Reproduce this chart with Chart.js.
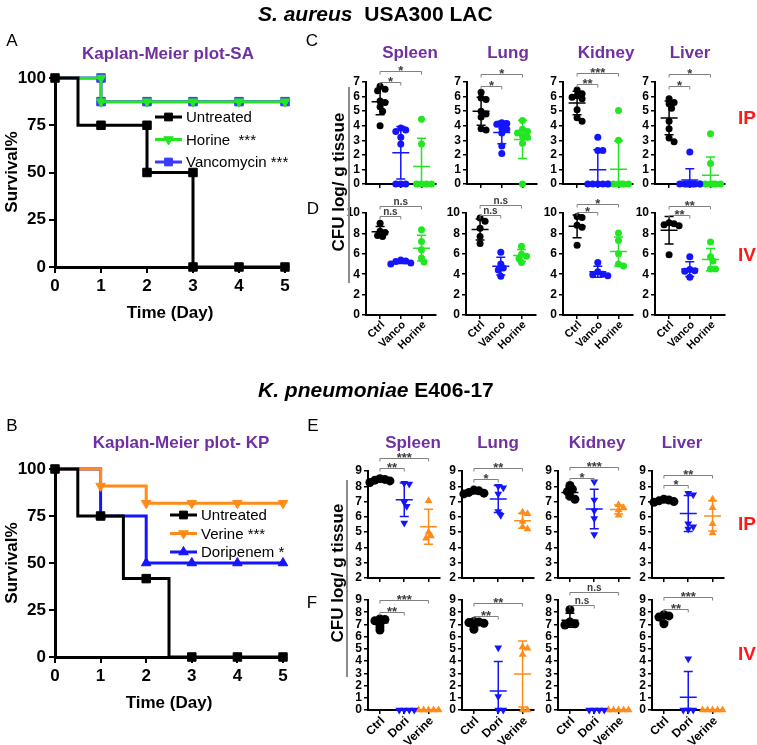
<!DOCTYPE html>
<html><head><meta charset="utf-8">
<script src="https://cdn.jsdelivr.net/npm/chart.js@4.4.0/dist/chart.umd.min.js"></script>
<style>
html,body{margin:0;padding:0;background:#fff;}
#wrap{position:relative;width:757px;height:745px;overflow:hidden;font-family:'Liberation Sans',Arial,Helvetica,sans-serif;background:#fff;}
canvas{position:absolute;left:0;top:0;}
.t{position:absolute;white-space:nowrap;line-height:1;}
</style></head><body><div id="wrap"></div>
<script>
// ---------------- DATA ----------------
const kmDays = [0,1,2,3,4,5];
const kmPercent = [0,25,50,75,100];
const saLegend = ['Untreated','Horine  ***','Vancomycin ***'];
const kpLegend = ['Untreated','Verine ***','Doripenem *'];
// S. aureus survival (step curves: times / survival %)
const saUntreatedT = [0,0.5,2,3,5],  saUntreatedS = [100,75,50,0,0];
const saUntreatedMarkT = [0,1,2,2,3,3,4,5], saUntreatedMarkS = [100,75,75,50,50,0,0,0];
const saHorineT = [0,1,5], saHorineS = [100,87.5,87.5];
const saHorineMarkT = [1,1,2,3,4,5], saHorineMarkS = [100,87.5,87.5,87.5,87.5,87.5];
const saVancoT = [0,1,5], saVancoS = [100,87.5,87.5];
const saVancoMarkT = [1,1,2,3,4,5], saVancoMarkS = [100,87.5,87.5,87.5,87.5,87.5];
// K. pneumoniae survival
const kpUntreatedT = [0,0.5,1.5,2.5,5], kpUntreatedS = [100,75,41.7,0,0];
const kpUntreatedMarkT = [0,1,2,3,4,5], kpUntreatedMarkS = [100,75,41.7,0,0,0];
const kpVerineT = [0,1,2,5], kpVerineS = [100,90.9,81.8,81.8];
const kpVerineMarkT = [1,2,3,4,5], kpVerineMarkS = [90.9,81.8,81.8,81.8,81.8];
const kpDoriT = [0,1,2,5], kpDoriS = [100,75,50,50];
const kpDoriMarkT = [1,2,3,4,5], kpDoriMarkS = [75,50,50,50,50];

const organs = ['Spleen','Lung','Kidney','Liver'];
const groupsSA = ['Ctrl','Vanco','Horine'];
const groupsKP = ['Ctrl','Dori','Verine'];

// CFU log / g tissue  [Ctrl, treatment 1, treatment 2]
const saIP_Spleen = [[6.7,6.5,6.4,5.7,5.6,5.3,5.0,4.0],[3.85,3.7,3.6,3.2,2.75,0,0,0],[4.45,2.75,0,0,0,0]];
const saIP_Lung   = [[6.3,5.9,5.8,5.0,4.8,4.6,3.8,3.7],[4.2,4.15,4.1,3.85,3.75,3.5,2.6,2.1],[4.35,3.75,3.6,3.5,3.3,3.2,2.8,0]];
const saIP_Kidney = [[6.45,6.2,6.05,5.95,5.85,5.1,4.55,4.3],[3.2,2.3,2.3,0,0,0,0,0],[5.05,3.0,0,0,0,0,0,0]];
const saIP_Liver  = [[5.85,5.6,5.5,5.2,4.3,3.8,3.15,2.9],[2.2,0,0,0,0,0,0,0],[3.45,1.4,0,0,0,0,0,0]];
const saIV_Spleen = [[9.0,8.2,8.1,7.8,7.7],[5.4,5.3,5.25,5.1,5.0],[8.35,7.2,6.4,5.6,5.2]];
const saIV_Lung   = [[9.5,9.2,8.5,7.7,7.0],[6.15,5.0,4.6,4.4,3.8],[6.75,5.95,5.75,5.55,5.15]];
const saIV_Kidney = [[9.65,9.55,8.8,8.6,6.85],[5.15,4.25,4.0,3.95,3.85],[8.05,7.3,6.0,5.0,4.8]];
const saIV_Liver  = [[9.05,8.95,8.85,8.75,5.9],[5.7,4.45,4.35,4.3,3.7],[7.15,5.7,5.3,4.5,4.5]];
const kpIP_Spleen = [[8.5,8.45,8.4,8.35,8.25],[8.2,8.15,6.95,6.7,5.6],[7.05,5.0,4.75,4.6]];
const kpIP_Lung   = [[7.75,7.7,7.6,7.55,7.5],[8.0,7.9,7.5,6.35,6.1],[6.3,6.2,5.7,5.35,5.2]];
const kpIP_Kidney = [[8.05,7.8,7.65,7.35,7.15],[8.3,7.1,6.4,5.9,4.85],[6.8,6.6,6.45,6.1]];
const kpIP_Liver  = [[7.15,7.1,7.05,7.0,6.95],[7.55,7.45,5.55,5.35,5.2],[7.15,6.6,5.55,4.95]];
const kpIV_Spleen = [[7.45,7.4,7.3,6.95,6.55],[0,0,0,0],[0,0,0,0,0]];
const kpIV_Lung   = [[7.25,7.2,7.15,7.1,6.6],[5.1,1.1,0,0],[5.15,5.05,4.55,0,0]];
const kpIV_Kidney = [[8.2,7.2,7.05,6.95],[0,0,0,0],[0,0,0,0,0]];
const kpIV_Liver  = [[7.8,7.7,7.6,7.05],[4.2,0,0,0],[0,0,0,0,0]];

// significance labels [Ctrl vs 2nd, Ctrl vs 3rd]
const sigC = [['*','*'],['*','*'],['**','***'],['*','*']];
const sigD = [['n.s','n.s'],['n.s','n.s'],['*','*'],['**','**']];
const sigE = [['**','***'],['*','**'],['*','***'],['*','**']];
const sigF = [['**','***'],['**','**'],['n.s','n.s'],['**','***']];

// ---------------- LAYOUT / STYLE ----------------
const FONT = "'Liberation Sans', Arial, Helvetica, sans-serif";
Chart.defaults.font.family = FONT;
Chart.defaults.color = '#000';
const PURPLE = '#7030A0';
const RED = '#FF1A1A';
const BLACK = '#000000', BLUE = '#1414FF', GREEN = '#22E622', ORANGE = '#FF8C1A';
const wrap = document.getElementById('wrap');

function addCanvas(){ const c=document.createElement('canvas'); c.width=757; c.height=745; wrap.appendChild(c); return c; }
function addText(html,x,y,css,mode){
  const d=document.createElement('div'); d.className='t'; d.innerHTML=html; d.style.cssText+=css;
  d.style.left=x+'px'; d.style.top=y+'px';
  d.style.transform = mode==='left' ? 'translate(0,-50%)' : (mode==='rot' ? 'translate(-50%,-50%) rotate(-90deg)' : 'translate(-50%,-50%)');
  wrap.appendChild(d); return d;
}
const zip = (a,b)=>a.map((v,i)=>({x:v,y:b[i]}));
const mean = a=>a.reduce((s,v)=>s+v,0)/a.length;
const sdev = a=>{const m=mean(a); return a.length>1?Math.sqrt(a.reduce((s,v)=>s+(v-m)*(v-m),0)/(a.length-1)):0;};

// ---------- Kaplan-Meier charts ----------
const kmLegendPlugin = {
  id:'kmLegend',
  afterDraw(chart,args,o){
    const ctx=chart.ctx; ctx.save();
    o.items.forEach((it,k)=>{
      const y=o.y+k*o.dy;
      ctx.strokeStyle=it.color; ctx.lineWidth=3;
      ctx.beginPath(); ctx.moveTo(o.x,y); ctx.lineTo(o.x+o.len,y); ctx.stroke();
      ctx.fillStyle=it.color; ctx.strokeStyle=it.color; ctx.lineWidth=1;
      Chart.helpers.drawPoint(ctx,{pointStyle:it.style,radius:it.r,rotation:it.rot||0,borderWidth:1},o.x+o.len/2,y);
      ctx.fillStyle='#000'; ctx.font='15px '+FONT; ctx.textAlign='left'; ctx.textBaseline='middle';
      ctx.fillText(it.text,o.x+o.len+4,y+1);
    });
    ctx.restore();
  }
};
function kmChart(area, series, legend){
  const c=addCanvas();
  const datasets=[];
  series.forEach(s=>{
    datasets.push({data:zip(s.mt,s.ms),showLine:false,pointStyle:s.style,rotation:s.rot||0,pointRadius:s.r,backgroundColor:s.color,borderColor:s.color,borderWidth:1,clip:false});
    datasets.push({data:zip(s.t,s.s),showLine:true,stepped:'before',borderColor:s.color,borderWidth:s.lw||3,pointRadius:0,fill:false,clip:false});
  });
  const axisCommon = {
    ticks:{font:{size:17,weight:'bold'},color:'#000',padding:3,autoSkip:false},
    grid:{display:true,drawOnChartArea:false,drawTicks:true,tickLength:6,color:'#000',lineWidth:2},
    border:{display:true,color:'#000',width:3}
  };
  new Chart(c,{
    type:'scatter',
    data:{datasets},
    options:{
      responsive:false,animation:false,events:[],
      layout:{padding:{left:area.left-45,right:757-area.right,top:area.top,bottom:745-area.bottom-30}},
      plugins:{legend:{display:false},tooltip:{enabled:false},kmLegend:legend},
      scales:{
        x:Object.assign({type:'linear',min:0,max:5,afterBuildTicks:s=>{s.ticks=kmDays.map(v=>({value:v}));},afterFit:s=>{s.height=30;}},JSON.parse(JSON.stringify(axisCommon))),
        y:Object.assign({type:'linear',min:0,max:100,afterBuildTicks:s=>{s.ticks=kmPercent.map(v=>({value:v}));},afterFit:s=>{s.width=45;}},JSON.parse(JSON.stringify(axisCommon)))
      }
    },
    plugins:[kmLegendPlugin]
  });
}

kmChart({left:55,right:285,top:78,bottom:267},[
  {t:saUntreatedT,s:saUntreatedS,mt:saUntreatedMarkT,ms:saUntreatedMarkS,color:BLACK,style:'rect',r:6},
  {t:saHorineT,s:saHorineS,mt:saHorineMarkT,ms:saHorineMarkS,color:GREEN,style:'triangle',rot:180,r:5.5,lw:2.5},
  {t:saVancoT,s:saVancoS,mt:saVancoMarkT,ms:saVancoMarkS,color:'#3A3AFF',style:'rect',r:6}
],{x:155,len:27,y:117,dy:22.5,items:[
  {text:saLegend[0],color:BLACK,style:'rect',r:5.5},
  {text:saLegend[1],color:GREEN,style:'triangle',rot:180,r:5.5},
  {text:saLegend[2],color:'#3A3AFF',style:'rect',r:5.5}
]});

kmChart({left:55,right:283,top:469,bottom:657},[
  {t:kpUntreatedT,s:kpUntreatedS,mt:kpUntreatedMarkT,ms:kpUntreatedMarkS,color:BLACK,style:'rect',r:6},
  {t:kpVerineT,s:kpVerineS,mt:kpVerineMarkT,ms:kpVerineMarkS,color:ORANGE,style:'triangle',rot:180,r:5.5},
  {t:kpDoriT,s:kpDoriS,mt:kpDoriMarkT,ms:kpDoriMarkS,color:BLUE,style:'triangle',rot:0,r:5.5}
],{x:170,len:27,y:515,dy:18.5,items:[
  {text:kpLegend[0],color:BLACK,style:'rect',r:5.5},
  {text:kpLegend[1],color:ORANGE,style:'triangle',rot:180,r:5.5},
  {text:kpLegend[2],color:BLUE,style:'triangle',rot:0,r:5.5}
]});

// ---------- CFU scatter charts ----------
function swarm(vals,pxPerUnit,step,minD,maxOff){
  const placed=[],out=[]; const n=Math.floor(maxOff/step);
  vals.forEach(v=>{
    let best=0,bestD=-1;
    for(let k=0;k<=2*n;k++){
      const off=k===0?0:(k%2?1:-1)*Math.ceil(k/2)*step;
      let d=Infinity;
      placed.forEach(p=>{d=Math.min(d,Math.hypot(off-p.o,(v-p.v)*pxPerUnit));});
      if(d>=minD){best=off;bestD=d;break;}
      if(d>bestD){bestD=d;best=off;}
    }
    placed.push({o:best,v}); out.push(best);
  });
  return out;
}
const statsPlugin = {
  id:'stats',
  afterDatasetsDraw(chart,args,o){
    const ctx=chart.ctx,x=chart.scales.x,y=chart.scales.y; ctx.save();
    chart.data.datasets.forEach((ds,i)=>{
      const m=mean(ds.raw), s=sdev(ds.raw);
      const cx=x.getPixelForValue(i);
      const py=v=>y.getPixelForValue(Math.max(v,y.min));
      ctx.strokeStyle=ds.borderColor; ctx.lineWidth=1.5;
      ctx.beginPath();
      ctx.moveTo(cx,py(m-s)); ctx.lineTo(cx,py(m+s));
      ctx.moveTo(cx-8.5,py(m)); ctx.lineTo(cx+8.5,py(m));
      ctx.moveTo(cx-4.5,py(m+s)); ctx.lineTo(cx+4.5,py(m+s));
      if(m-s>y.min){ctx.moveTo(cx-4.5,py(m-s)); ctx.lineTo(cx+4.5,py(m-s));}
      ctx.stroke();
    });
    // significance brackets
    o.sig.forEach((lab,k)=>{
      const x1=x.getPixelForValue(0), x2=x.getPixelForValue(k+1), yy=Math.round(y.getPixelForValue(o.lev[k]))+0.5;
      ctx.strokeStyle='#808080'; ctx.lineWidth=1;
      ctx.beginPath(); ctx.moveTo(x1,yy+3); ctx.lineTo(x1,yy); ctx.lineTo(x2,yy); ctx.lineTo(x2,yy+3); ctx.stroke();
      ctx.fillStyle='#3a3a3a'; ctx.textAlign='center'; ctx.textBaseline='alphabetic';
      if(lab==='n.s'){ ctx.font='bold 10px '+FONT; ctx.fillText(lab,(x1+x2)/2,yy-2); }
      else { ctx.font='bold 13px '+FONT; ctx.fillText(lab,(x1+x2)/2,yy+3); }
    });
    // rotated category labels
    if(o.labels){
      ctx.fillStyle='#000'; ctx.font='bold '+o.fs+'px '+FONT; ctx.textAlign='right'; ctx.textBaseline='middle';
      o.groups.forEach((g,i)=>{
        ctx.save();
        ctx.translate(x.getPixelForValue(i)+3, y.bottom+o.dy);
        ctx.rotate(-Math.PI/4);
        ctx.fillText(g,0,0);
        ctx.restore();
      });
    }
    ctx.restore();
  }
};

const SA_COLORS=[BLACK,BLUE,GREEN], KP_COLORS=[BLACK,BLUE,ORANGE];
const SA_SHAPES=[['circle',0],['circle',0],['circle',0]];
const KP_SHAPES=[['circle',0],['triangle',180],['triangle',0]];
const rows=[
  {data:[saIP_Spleen,saIP_Lung,saIP_Kidney,saIP_Liver],sig:sigC,lev:[[7.0,7.75],[6.7,7.55],[6.85,7.6],[6.75,7.55]],
   groups:groupsSA,colors:SA_COLORS,shapes:SA_SHAPES,top:82,bottom:184,ymin:0,ymax:7,step:1,lefts:[366,467,563,655],W:70,xmin:-0.68,xmax:2.7,labels:false,r:3.5},
  {data:[saIV_Spleen,saIV_Lung,saIV_Kidney,saIV_Liver],sig:sigD,lev:[[9.7,10.7],[9.85,10.8],[10.05,10.9],[9.8,10.7]],
   groups:groupsSA,colors:SA_COLORS,shapes:SA_SHAPES,top:213,bottom:315,ymin:0,ymax:10,step:2,lefts:[366,466,563,655],W:70,xmin:-0.68,xmax:2.7,labels:true,fs:11,ldy:8,r:3.5},
  {data:[kpIP_Spleen,kpIP_Lung,kpIP_Kidney,kpIP_Liver],sig:sigE,lev:[[9.18,9.83],[8.48,9.2],[8.56,9.24],[8.08,8.74]],
   groups:groupsKP,colors:KP_COLORS,shapes:KP_SHAPES,top:471,bottom:578,ymin:2,ymax:9,step:1,lefts:[368,462,558,652],W:72,xmin:-0.49,xmax:2.47,labels:false,r:4.5},
  {data:[kpIV_Spleen,kpIV_Lung,kpIV_Kidney,kpIV_Liver],sig:sigF,lev:[[8.0,9.0],[7.72,8.78],[8.6,9.68],[8.24,9.27]],
   groups:groupsKP,colors:KP_COLORS,shapes:KP_SHAPES,top:600,bottom:710,ymin:0,ymax:9,step:1,lefts:[368,462,558,652],W:72,xmin:-0.49,xmax:2.47,labels:true,fs:12,ldy:9,r:4.5}
];

rows.forEach(row=>{
  row.data.forEach((vals,col)=>{
    const c=addCanvas();
    const left=row.lefts[col], right=left+row.W;
    const pxY=(row.bottom-row.top)/(row.ymax-row.ymin);
    const pxX=row.W/(row.xmax-row.xmin);
    const yTicks=[]; for(let v=row.ymin; v<=row.ymax+1e-9; v+=row.step) yTicks.push(v);
    const datasets=vals.map((g,i)=>{
      const off=swarm(g,pxY,2.5,4.5,10);
      return {data:g.map((v,j)=>({x:i+off[j]/pxX,y:v})),raw:g,backgroundColor:row.colors[i],borderColor:row.colors[i],
        pointStyle:row.shapes[i][0],rotation:row.shapes[i][1],pointRadius:row.r,borderWidth:0,clip:false};
    });
    new Chart(c,{
      type:'scatter',
      data:{datasets},
      options:{
        responsive:false,animation:false,events:[],
        layout:{padding:{left:left-30,right:757-right,top:row.top,bottom:745-row.bottom-10}},
        plugins:{legend:{display:false},tooltip:{enabled:false},
          stats:{sig:row.sig[col],lev:row.lev[col],labels:row.labels,groups:row.groups,fs:row.fs,dy:row.ldy}},
        scales:{
          x:{type:'linear',min:row.xmin,max:row.xmax,
             afterBuildTicks:s=>{s.ticks=[0,1,2].map(v=>({value:v}));},
             afterFit:s=>{s.height=10;},
             ticks:{display:false},
             grid:{display:true,drawOnChartArea:false,drawTicks:true,tickLength:4,color:'#000',lineWidth:1.5},
             border:{display:true,color:'#000',width:2}},
          y:{type:'linear',min:row.ymin,max:row.ymax,
             afterBuildTicks:s=>{s.ticks=yTicks.map(v=>({value:v}));},
             afterFit:s=>{s.width=30;},
             ticks:{font:{size:12,weight:'bold'},color:'#000',padding:2,autoSkip:false},
             grid:{display:true,drawOnChartArea:false,drawTicks:true,tickLength:4,color:'#000',lineWidth:1.5},
             border:{display:true,color:'#000',width:2}}
        }
      },
      plugins:[statsPlugin]
    });
  });
});

// ---------- Text ----------
const B='font-weight:bold;';
addText('<i>S. aureus</i>&nbsp; USA300 LAC',258,13,B+'font-size:21px;','left');
addText('<i>K. pneumoniae</i> E406-17',258,389,B+'font-size:21px;','left');
[['A',12,40],['C',312,40],['D',313,208],['B',12,425],['E',313,425],['F',312,602]].forEach(a=>addText(a[0],a[1],a[2],'font-size:17px;'));
addText('Kaplan-Meier plot-SA',168,53,B+'font-size:17px;color:'+PURPLE+';');
addText('Kaplan-Meier plot- KP',181,442,B+'font-size:17px;color:'+PURPLE+';');
addText('Survival%',11,172,B+'font-size:17px;','rot');
addText('Survival%',11,563,B+'font-size:17px;','rot');
addText('Time (Day)',170,312,B+'font-size:17px;');
addText('Time (Day)',169,702,B+'font-size:17px;');
const titleC=[410,508,606,690], titleE=[413,498,597,682];
organs.forEach((o,i)=>{
  addText(o,titleC[i],52,B+'font-size:17px;color:'+PURPLE+';');
  addText(o,titleE[i],442,B+'font-size:17px;color:'+PURPLE+';');
});
addText('CFU log/ g tissue',338,182,B+'font-size:17px;','rot');
addText('CFU log/ g tissue',337,573,B+'font-size:17px;','rot');
const ln=(x,y1,y2)=>{const d=document.createElement('div');d.style.cssText='position:absolute;left:'+(x-1)+'px;top:'+y1+'px;width:2px;height:'+(y2-y1)+'px;background:#8a8a8a;';wrap.appendChild(d);};
ln(349,87,283); ln(347,480,677);
[['IP',747,117],['IV',747,254],['IP',747,523],['IV',747,653]].forEach(a=>addText(a[0],a[1],a[2],B+'font-size:19px;color:'+RED+';'));
</script></body></html>
